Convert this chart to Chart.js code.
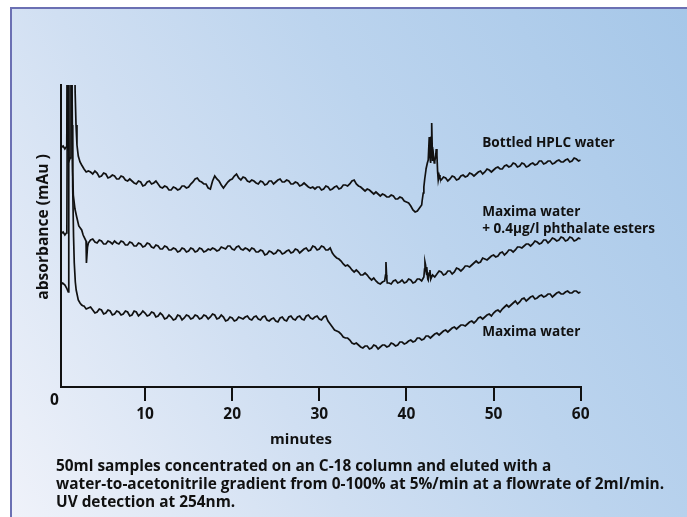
<!DOCTYPE html>
<html>
<head>
<meta charset="utf-8">
<title>HPLC blank chromatograms</title>
<script src="https://cdn.jsdelivr.net/npm/chart.js@4.4.1/dist/chart.umd.min.js"></script>
<style>
  html, body { margin: 0; padding: 0; background: #fff; }
  body { width: 687px; height: 517px; position: relative; overflow: hidden; }
  .panel {
    position: absolute; left: 10px; top: 7px; width: 700px; height: 540px;
    border-top: 2px solid #6b70b3; border-left: 2px solid #6b70b3;
    background: linear-gradient(60deg, #f1f3fa 0%, #d0dff2 35%, #bcd4ee 60%, #a4c6e8 100%);
  }
  #chrom { position: absolute; left: 0; top: 0; }
</style>
</head>
<body>
<div class="panel"></div>
<canvas id="chrom" width="687" height="517"></canvas>
<script>
// ===========================
// Chromatograms (UV 254nm)
// ===========================

var tickMinutes = [10, 20, 30, 40, 50, 60];

// readings every 0.5 min, from 3 to 60 min
var gridMinutes = [
  3, 3.5, 4, 4.5, 5, 5.5, 6, 6.5, 7, 7.5,
  8, 8.5, 9, 9.5, 10, 10.5, 11, 11.5, 12, 12.5,
  13, 13.5, 14, 14.5, 15, 15.5, 16, 16.5, 17, 17.5,
  18, 18.5, 19, 19.5, 20, 20.5, 21, 21.5, 22, 22.5,
  23, 23.5, 24, 24.5, 25, 25.5, 26, 26.5, 27, 27.5,
  28, 28.5, 29, 29.5, 30, 30.5, 31, 31.5, 32, 32.5,
  33, 33.5, 34, 34.5, 35, 35.5, 36, 36.5, 37, 37.5,
  38, 38.5, 39, 39.5, 40, 40.5, 41, 41.5, 42, 42.5,
  43, 43.5, 44, 44.5, 45, 45.5, 46, 46.5, 47, 47.5,
  48, 48.5, 49, 49.5, 50, 50.5, 51, 51.5, 52, 52.5,
  53, 53.5, 54, 54.5, 55, 55.5, 56, 56.5, 57, 57.5,
  58, 58.5, 59, 59.5, 60
];

// in-between readings (baseline noise), 3.25 to 59.75 min
var midMinutes = [
  3.25, 3.75, 4.25, 4.75, 5.25, 5.75, 6.25, 6.75, 7.25, 7.75,
  8.25, 8.75, 9.25, 9.75, 10.25, 10.75, 11.25, 11.75, 12.25, 12.75,
  13.25, 13.75, 14.25, 14.75, 15.25, 15.75, 16.25, 16.75, 17.25, 17.75,
  18.25, 18.75, 19.25, 19.75, 20.25, 20.75, 21.25, 21.75, 22.25, 22.75,
  23.25, 23.75, 24.25, 24.75, 25.25, 25.75, 26.25, 26.75, 27.25, 27.75,
  28.25, 28.75, 29.25, 29.75, 30.25, 30.75, 31.25, 31.75, 32.25, 32.75,
  33.25, 33.75, 34.25, 34.75, 35.25, 35.75, 36.25, 36.75, 37.25, 37.75,
  38.25, 38.75, 39.25, 39.75, 40.25, 40.75, 41.25, 41.75, 42.25, 42.75,
  43.25, 43.75, 44.25, 44.75, 45.25, 45.75, 46.25, 46.75, 47.25, 47.75,
  48.25, 48.75, 49.25, 49.75, 50.25, 50.75, 51.25, 51.75, 52.25, 52.75,
  53.25, 53.75, 54.25, 54.75, 55.25, 55.75, 56.25, 56.75, 57.25, 57.75,
  58.25, 58.75, 59.25, 59.75
];

var bottledHplc = [
  218, 216, 213, 214, 211, 213, 210, 211, 208, 210,
  206, 206, 203, 205, 202, 206, 204, 203, 199, 200,
  197, 199, 198, 201, 200, 205, 209, 205, 203, 198,
  211, 206, 199, 205, 208, 213, 207, 209, 205, 206,
  203, 205, 203, 206, 205, 208, 205, 206, 203, 204,
  202, 202, 199, 198, 200, 198, 200, 198, 201, 199,
  202, 203, 207, 201, 198, 198, 195, 195, 191, 192,
  190, 191, 188, 189, 185, 181, 175, 179, 200, 227,
  226, 232, 207, 209, 208, 210, 208, 212, 211, 213,
  213, 216, 215, 217, 217, 220, 218, 222, 221, 223,
  221, 223, 221, 224, 223, 226, 224, 226, 224, 227,
  225, 228, 226, 228, 227
];
var bottledHplcMid = [
  215, 215, 216, 210, 214, 209, 212, 208, 211, 207,
  208, 204, 206, 201, 205, 203, 206, 200, 201, 197,
  200, 197, 201, 199, 203, 208, 206, 203, 199, 206,
  208, 202, 202, 207, 211, 209, 210, 206, 207, 204,
  206, 202, 206, 203, 207, 205, 207, 203, 205, 201,
  204, 200, 200, 200, 197, 201, 197, 200, 198, 202,
  201, 206, 203, 200, 196, 197, 193, 193, 193, 190,
  192, 188, 190, 186, 184, 177, 176, 182, 218, 226,
  226, 212, 210, 206, 211, 207, 211, 210, 214, 211,
  215, 213, 218, 215, 219, 218, 221, 220, 224, 220,
  224, 220, 223, 222, 226, 223, 226, 223, 226, 225,
  227, 225, 229, 226
];

var maximaPhthalate = [
  150, 144, 148, 144, 146, 143, 145, 146, 143, 145,
  142, 144, 141, 143, 141, 143, 139, 141, 138, 140,
  137, 138, 136, 138, 136, 138, 136, 138, 136, 137,
  138, 137, 139, 141, 138, 140, 138, 139, 136, 138,
  135, 136, 133, 135, 134, 136, 134, 137, 135, 137,
  136, 139, 137, 140, 138, 140, 137, 134, 129, 126,
  121, 120, 115, 115, 112, 112, 107, 106, 103, 106,
  104, 106, 104, 107, 105, 107, 105, 108, 110, 107,
  112, 113, 115, 113, 116, 115, 118, 118, 121, 122,
  126, 125, 128, 129, 132, 131, 135, 134, 137, 137,
  140, 141, 143, 143, 145, 144, 147, 146, 148, 147,
  149, 147, 149, 147, 148
];
var maximaPhthalateMid = [
  138, 147, 145, 147, 143, 146, 143, 144, 146, 142,
  145, 141, 144, 140, 144, 140, 142, 138, 141, 137,
  139, 135, 139, 135, 139, 135, 139, 135, 138, 139,
  136, 140, 138, 141, 137, 141, 137, 138, 139, 135,
  137, 132, 136, 133, 137, 133, 136, 134, 138, 134,
  138, 136, 141, 137, 141, 137, 139, 131, 128, 123,
  122, 117, 117, 112, 114, 109, 109, 104, 105, 108,
  103, 107, 105, 104, 108, 104, 108, 106, 116, 112,
  110, 116, 112, 116, 113, 119, 116, 121, 120, 124,
  124, 129, 127, 131, 130, 134, 132, 137, 135, 140,
  139, 143, 141, 146, 143, 147, 144, 149, 146, 150,
  146, 150, 146, 149
];

var maximaWater = [
  81, 79, 77, 75, 77, 74, 76, 73, 75, 73,
  75, 72, 75, 73, 74, 72, 74, 71, 72, 69,
  70, 68, 71, 69, 71, 69, 71, 69, 71, 70,
  72, 69, 70, 67, 69, 67, 69, 70, 68, 70,
  68, 70, 67, 68, 66, 69, 67, 70, 68, 70,
  68, 71, 69, 70, 68, 70, 66, 60, 56, 53,
  49, 47, 43, 42, 39, 41, 39, 41, 40, 42,
  41, 43, 42, 45, 44, 47, 46, 49, 48, 51,
  51, 54, 54, 57, 57, 60, 60, 62, 63, 66,
  66, 70, 70, 73, 74, 77, 78, 82, 82, 86,
  85, 89, 88, 91, 89, 92, 91, 93, 92, 95,
  93, 96, 94, 96, 95
];
var maximaWaterMid = [
  78, 80, 74, 78, 73, 77, 72, 76, 72, 76,
  71, 76, 71, 76, 71, 75, 70, 74, 68, 72,
  67, 72, 67, 72, 68, 72, 68, 72, 68, 73,
  68, 72, 66, 70, 66, 70, 68, 71, 67, 71,
  67, 71, 66, 69, 65, 70, 66, 71, 67, 71,
  67, 72, 68, 71, 67, 71, 63, 57, 55, 50,
  49, 44, 44, 40, 41, 38, 42, 38, 42, 40,
  44, 41, 45, 43, 46, 45, 49, 47, 51, 49,
  53, 52, 56, 55, 59, 58, 62, 61, 65, 64,
  69, 68, 72, 71, 76, 75, 80, 80, 84, 83,
  88, 86, 90, 88, 91, 90, 93, 90, 94, 93,
  95, 94, 96, 94
];

// solvent front and sharp peaks, read more closely
var bottledExtraMinutes = [0.3, 0.6, 0.8, 0.95, 1.02, 1.08, 1.22, 1.28, 1.42, 1.5, 1.92, 1.98, 2.08, 2.19, 2.34, 2.54, 2.73,
  41.8, 41.93, 42.1, 42.24, 42.4, 42.62, 42.7, 42.78, 42.85, 42.9, 42.96, 43.1, 43.19, 43.35, 43.42, 43.58, 43.65, 43.85, 43.95];
var bottledExtraValues = [239, 241, 238, 240, 243, 340, 340, 226, 229, 340, 340, 295, 262, 242, 231, 225, 222,
  186, 194, 208, 217, 224, 250, 230, 224, 250, 264, 240, 232, 224, 230, 238, 215, 207, 209, 207];

var phthalateExtraMinutes = [0.3, 0.6, 0.8, 0.97, 1.03, 1.1, 1.45, 1.55, 1.62, 1.7, 1.77, 1.96, 2.16, 2.4, 2.73, 2.9, 3.11, 3.23, 3.3, 3.4,
  37.6, 37.65, 37.72, 37.8, 42.08, 42.13, 42.2, 42.3, 42.36, 42.45, 42.6, 42.7, 42.8, 42.9];
var phthalateExtraValues = [153, 155, 152, 154, 156, 340, 340, 340, 262, 215, 192, 178, 170, 161, 157, 152, 150, 146, 124, 140,
  112, 125, 112, 104, 118, 125, 122, 112, 120, 108, 114, 117, 108, 110];

var waterExtraMinutes = [0.3, 0.55, 0.81, 1.0, 1.19, 1.25, 1.6, 1.7, 1.8, 1.88, 2.0, 2.1, 2.34, 2.54, 2.73, 2.91];
var waterExtraValues = [103, 104, 102, 99, 95, 340, 340, 200, 150, 124, 105, 97, 87, 84, 82, 81];

var seriesLabels = [
  ['Bottled HPLC water'],
  ['Maxima water', '+ 0.4\u00b5g/l phthalate esters'],
  ['Maxima water']
];

var captionLines = [
  '50ml samples concentrated on an C-18 column and eluted with a',
  'water-to-acetonitrile gradient from 0-100% at 5%/min at a flowrate of 2ml/min.',
  'UV detection at 254nm.'
];

var FONT = '"Open Sans", "DejaVu Sans", sans-serif';
var INK = '#111';

// merge several (minutes, values) pairs into one time-ordered trace
function buildSeries(parts) {
  var pts = [];
  parts.forEach(function(p) {
    for (var i = 0; i < p[0].length; i++) pts.push({ x: p[0][i], y: p[1][i] });
  });
  pts.sort(function(a, b) { return a.x - b.x; });
  return pts;
}

function traceDataset(label, data) {
  return {
    label: label,
    data: data,
    borderColor: INK,
    borderWidth: 1.7,
    pointRadius: 0,
    tension: 0,
    fill: false
  };
}

// text drawn over the plot: series names, axis words, caption
var chromLabels = {
  id: 'chromLabels',
  afterDraw: function(chart) {
    var ctx = chart.ctx;
    var xs = chart.scales.x;
    var ys = chart.scales.y;
    var anchors = [ { minute: 48.7, value: 244 }, { minute: 48.7, value: 175 }, { minute: 48.7, value: 54.5 } ];

    ctx.save();
    ctx.fillStyle = INK;
    ctx.textBaseline = 'middle';

    ctx.font = 'bold 13.6px ' + FONT;
    ctx.textAlign = 'left';
    seriesLabels.forEach(function(lines, i) {
      var px = xs.getPixelForValue(anchors[i].minute);
      var py = ys.getPixelForValue(anchors[i].value);
      lines.forEach(function(t, k) { ctx.fillText(t, px, py + k * 17); });
    });

    ctx.textAlign = 'center';
    ctx.font = 'bold 15.5px ' + FONT;
    ctx.fillText('0', 54.5, 400.5);

    ctx.font = 'bold 15px ' + FONT;
    ctx.fillText('minutes', 301, 440);

    ctx.textAlign = 'left';
    ctx.font = 'bold 15.4px ' + FONT;
    captionLines.forEach(function(t, k) { ctx.fillText(t, 56, 467 + k * 18); });

    ctx.translate(44, 227);
    ctx.rotate(-Math.PI / 2);
    ctx.textAlign = 'center';
    ctx.font = 'bold 15.6px ' + FONT;
    ctx.fillText('absorbance (mAu )', 0, 0);
    ctx.restore();
  }
};

new Chart(document.getElementById('chrom').getContext('2d'), {
  type: 'line',
  data: {
    datasets: [
      traceDataset('Bottled HPLC water', buildSeries([
        [gridMinutes, bottledHplc], [midMinutes, bottledHplcMid], [bottledExtraMinutes, bottledExtraValues]
      ])),
      traceDataset('Maxima water + 0.4\u00b5g/l phthalate esters', buildSeries([
        [gridMinutes, maximaPhthalate], [midMinutes, maximaPhthalateMid], [phthalateExtraMinutes, phthalateExtraValues]
      ])),
      traceDataset('Maxima water', buildSeries([
        [gridMinutes, maximaWater], [midMinutes, maximaWaterMid], [waterExtraMinutes, waterExtraValues]
      ]))
    ]
  },
  options: {
    responsive: false,
    animation: false,
    devicePixelRatio: 1,
    layout: { padding: { left: 60.5, right: 106.3, top: 85, bottom: 85 } },
    plugins: { legend: { display: false }, tooltip: { enabled: false } },
    scales: {
      x: {
        type: 'linear',
        min: 0.3,
        max: 60,
        afterBuildTicks: function(scale) {
          scale.ticks = tickMinutes.map(function(v) { return { value: v }; });
        },
        afterFit: function(scale) { scale.height = 45; },
        grid: { display: true, drawOnChartArea: false, drawTicks: true, tickLength: 14, color: INK, lineWidth: 2 },
        border: { display: true, color: INK, width: 2 },
        ticks: { color: INK, padding: 4, font: { family: FONT, weight: 'bold', size: 15.5 } }
      },
      y: {
        type: 'linear',
        min: 0,
        max: 302,
        afterFit: function(scale) { scale.width = 0; },
        grid: { display: false },
        border: { display: true, color: INK, width: 2 },
        ticks: { display: false }
      }
    }
  },
  plugins: [chromLabels]
});
</script>
</body>
</html>
